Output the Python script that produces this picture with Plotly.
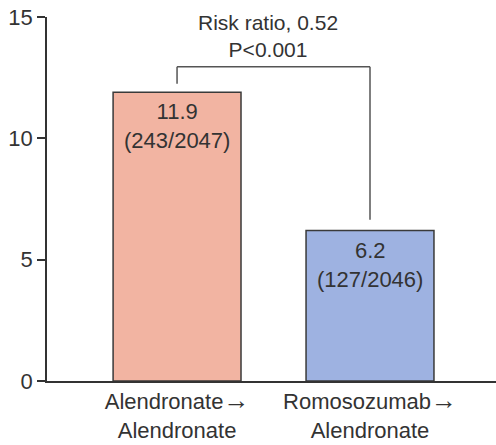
import plotly.graph_objects as go

# Incidence of the endpoint by treatment sequence (%)
ARROW = '<span style="font-size:26px">→</span>'
categories = [f"Alendronate{ARROW}<br>Alendronate", f"Romosozumab{ARROW}<br>Alendronate"]
rates = [11.9, 6.2]
events = [243, 127]
totals = [2047, 2046]
bar_colors = ["#F2B4A2", "#9EB2E1"]
y_ticks = [0, 5, 10, 15]
comparison_text = "Risk ratio, 0.52<br>P<0.001"

FONT = "Liberation Sans, Arial, sans-serif"
TEXT_COLOR = "#333333"

x_pos = list(range(len(categories)))
labels = [f"{r}<br>({e}/{n})" for r, e, n in zip(rates, events, totals)]

fig = go.Figure()
fig.add_trace(go.Bar(
    x=x_pos,
    y=rates,
    width=0.663,
    marker=dict(color=bar_colors, line=dict(color="#3a3a3a", width=1.5)),
    hoverinfo="skip",
))

# Value labels just inside the top of each bar
for xp, r, lab in zip(x_pos, rates, labels):
    fig.add_annotation(
        x=xp, y=r, text=lab, showarrow=False,
        yanchor="top", yshift=-5,
        font=dict(family=FONT, size=22, color=TEXT_COLOR),
    )

# Comparison bracket joining the two bars
bracket_top = 12.95
gap_left = 0.35
gap_right = 0.45
bracket_line = dict(color="#555555", width=1.5)
fig.add_shape(type="line", x0=x_pos[0], x1=x_pos[0],
              y0=rates[0] + gap_left, y1=bracket_top, line=bracket_line)
fig.add_shape(type="line", x0=x_pos[0], x1=x_pos[1],
              y0=bracket_top, y1=bracket_top, line=bracket_line)
fig.add_shape(type="line", x0=x_pos[1], x1=x_pos[1],
              y0=bracket_top, y1=rates[1] + gap_right, line=bracket_line)

fig.add_annotation(
    x=(x_pos[0] + x_pos[1]) / 2, y=bracket_top,
    text=comparison_text, showarrow=False,
    yanchor="bottom", yshift=4, xshift=-6,
    font=dict(family=FONT, size=21, color=TEXT_COLOR),
)

fig.update_layout(
    width=496, height=445,
    margin=dict(l=47, r=0, t=17, b=64),
    plot_bgcolor="white", paper_bgcolor="white",
    showlegend=False,
    font=dict(family=FONT, size=21, color=TEXT_COLOR),
    xaxis=dict(
        range=[-0.674, 1.653],
        tickvals=x_pos, ticktext=categories,
        showline=True, linecolor="#333333", linewidth=1.5,
        showgrid=False, zeroline=False, ticks="",
        tickfont=dict(family=FONT, size=22, color=TEXT_COLOR),
    ),
    yaxis=dict(
        range=[0, 15], tickvals=y_ticks,
        showline=True, linecolor="#333333", linewidth=1.5,
        showgrid=False, zeroline=False,
        ticks="outside", ticklen=8, tickwidth=1.5, tickcolor="#333333",
        tickfont=dict(family=FONT, size=22, color=TEXT_COLOR),
    ),
)

fig.write_html("out.html")
